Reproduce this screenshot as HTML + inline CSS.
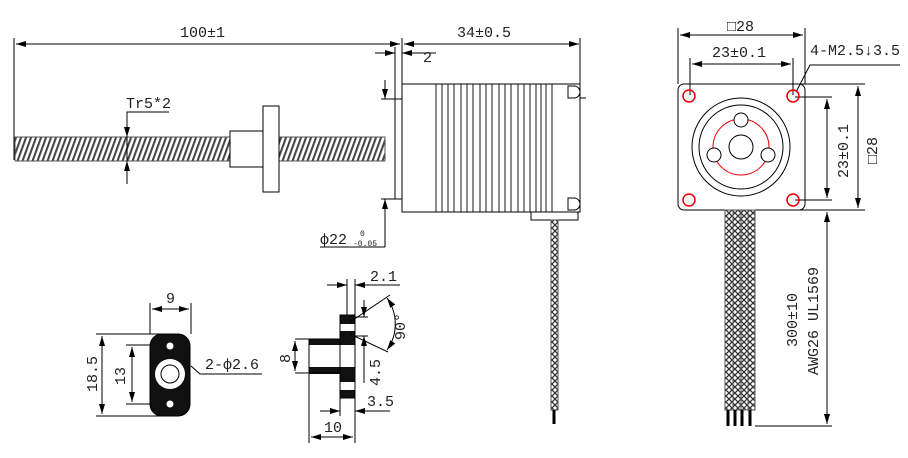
<!DOCTYPE html>
<html><head><meta charset="utf-8"><style>
html,body{margin:0;padding:0;background:#fff;}
svg{display:block;}
text{font-family:"Liberation Mono","Noto Sans CJK SC",monospace;font-size:15px;fill:#222;}
</style></head><body>
<svg width="908" height="458" viewBox="0 0 908 458" xmlns="http://www.w3.org/2000/svg">
<defs>
<pattern id="thr" width="5" height="24" patternUnits="userSpaceOnUse" patternTransform="skewX(-20)">
<rect width="5" height="24" fill="#fff"/><rect x="0" width="2.2" height="24" fill="#444"/>
</pattern>
<pattern id="braid" width="6" height="6" patternUnits="userSpaceOnUse">
<rect width="6" height="6" fill="#fff"/><path d="M0 0L6 6M6 0L0 6" stroke="#333" stroke-width="1.3"/>
</pattern>
<marker id="a" viewBox="0 0 10 6" refX="10" refY="3" markerWidth="10" markerHeight="6" orient="auto-start-reverse" markerUnits="userSpaceOnUse"><path d="M0 0L10 3L0 6z" fill="#000"/></marker>
</defs>
<g stroke="#000" stroke-width="1" fill="none">
<line x1="14" y1="38" x2="14" y2="160"/>
<line x1="580" y1="38" x2="580" y2="100"/>
<line x1="402" y1="38" x2="402" y2="84"/>
<line x1="16" y1="44" x2="400" y2="44" marker-start="url(#a)" marker-end="url(#a)"/>
<line x1="404" y1="44" x2="579" y2="44" marker-start="url(#a)" marker-end="url(#a)"/>
<line x1="395" y1="47" x2="395" y2="99"/>
<line x1="375" y1="53" x2="395" y2="53" marker-end="url(#a)"/>
<line x1="436" y1="53" x2="402" y2="53" marker-end="url(#a)"/>
<rect x="15" y="137" width="215" height="24" fill="url(#thr)" stroke="#555"/>
<rect x="279" y="137" width="106" height="24" fill="url(#thr)" stroke="#555"/>
<rect x="230" y="131" width="33" height="36" fill="#fff"/>
<rect x="263" y="106" width="16" height="86" fill="#fff"/>
<polyline points="169,112 127,112 127,184"/>
<line x1="127" y1="120" x2="127" y2="137" marker-end="url(#a)"/>
<line x1="127" y1="178" x2="127" y2="161" marker-end="url(#a)"/>
<line x1="395" y1="99" x2="395" y2="199"/>
<line x1="381" y1="99" x2="402" y2="99"/>
<line x1="381" y1="199" x2="402" y2="199"/>
<line x1="385" y1="80" x2="385" y2="99" marker-end="url(#a)"/>
<line x1="385" y1="247" x2="385" y2="199" marker-end="url(#a)"/>
<line x1="320" y1="247" x2="385" y2="247"/>
<rect x="402" y="84" width="178" height="128"/>
<g stroke-width="0.9">
<line x1="436" y1="84" x2="436" y2="212"/><line x1="442" y1="84" x2="442" y2="212"/><line x1="448" y1="84" x2="448" y2="212"/><line x1="454" y1="84" x2="454" y2="212"/><line x1="461" y1="84" x2="461" y2="212"/><line x1="467" y1="84" x2="467" y2="212"/><line x1="473" y1="84" x2="473" y2="212"/><line x1="480" y1="84" x2="480" y2="212"/><line x1="486" y1="84" x2="486" y2="212"/><line x1="492" y1="84" x2="492" y2="212"/><line x1="499" y1="84" x2="499" y2="212"/><line x1="505" y1="84" x2="505" y2="212"/><line x1="511" y1="84" x2="511" y2="212"/><line x1="518" y1="84" x2="518" y2="212"/><line x1="524" y1="84" x2="524" y2="212"/><line x1="530" y1="84" x2="530" y2="212"/><line x1="536" y1="84" x2="536" y2="212"/><line x1="541" y1="84" x2="541" y2="212"/><line x1="546" y1="84" x2="546" y2="212"/><line x1="552" y1="84" x2="552" y2="212"/>
</g>
<path d="M568 86v12h6a6 6 0 0 0 0-12z M580 98h6"/>
<path d="M568 198v12h6a6 6 0 0 0 0-12z"/>
<rect x="531" y="212" width="47" height="8"/>
<rect x="551" y="220" width="7" height="190" fill="url(#braid)" stroke="#555"/>
<line x1="554" y1="410" x2="554" y2="424" stroke-width="3"/>
<line x1="678" y1="28" x2="678" y2="84"/><line x1="805" y1="28" x2="805" y2="84"/>
<line x1="680" y1="35" x2="803" y2="35" marker-start="url(#a)" marker-end="url(#a)"/>
<line x1="690" y1="58" x2="690" y2="95"/><line x1="793" y1="58" x2="793" y2="95"/>
<line x1="692" y1="64" x2="791" y2="64" marker-start="url(#a)" marker-end="url(#a)"/>
<rect x="678" y="84" width="127" height="126" rx="6"/>
<line x1="790" y1="84" x2="865" y2="84"/><line x1="800" y1="210" x2="865" y2="210"/>
<line x1="858" y1="86" x2="858" y2="208" marker-start="url(#a)" marker-end="url(#a)"/>
<line x1="795" y1="97" x2="832" y2="97"/><line x1="795" y1="200" x2="832" y2="200"/>
<line x1="827" y1="99" x2="827" y2="198" marker-start="url(#a)" marker-end="url(#a)"/>
<polyline points="900,65 810,65 796,92"/>
<circle cx="741" cy="147" r="49"/><circle cx="741" cy="147" r="42"/>
<circle cx="741" cy="147" r="28" stroke="#e00"/>
<circle cx="741" cy="147" r="12"/>
<circle cx="741" cy="120" r="7" fill="#fff"/><circle cx="714" cy="155" r="7" fill="#fff"/><circle cx="768" cy="155" r="7" fill="#fff"/>
<g stroke-width="1.5"><circle cx="689" cy="96" r="6" stroke="#e00"/><circle cx="793" cy="96" r="6" stroke="#e00"/><circle cx="689" cy="200" r="6" stroke="#e00"/><circle cx="793" cy="200" r="6" stroke="#e00"/></g>
<g fill="url(#braid)" stroke="#555"><rect x="725" y="210" width="8" height="200"/><rect x="733" y="210" width="8" height="200"/><rect x="741" y="210" width="7" height="200"/><rect x="748" y="210" width="7" height="200"/></g>
<g stroke-width="3"><line x1="728" y1="410" x2="728" y2="426"/><line x1="735" y1="410" x2="735" y2="426"/><line x1="742" y1="410" x2="742" y2="426"/><line x1="750" y1="410" x2="750" y2="426"/></g>
<line x1="755" y1="426" x2="832" y2="426"/>
<line x1="827" y1="212" x2="827" y2="424" marker-start="url(#a)" marker-end="url(#a)"/>
<line x1="150" y1="303" x2="150" y2="334"/><line x1="191" y1="303" x2="191" y2="334"/>
<line x1="152" y1="309" x2="189" y2="309" marker-start="url(#a)" marker-end="url(#a)"/>
<line x1="96" y1="334" x2="170" y2="334"/><line x1="96" y1="416" x2="170" y2="416"/>
<line x1="102" y1="336" x2="102" y2="414" marker-start="url(#a)" marker-end="url(#a)"/>
<line x1="126" y1="345" x2="170" y2="345"/><line x1="126" y1="404" x2="170" y2="404"/>
<line x1="132" y1="347" x2="132" y2="402" marker-start="url(#a)" marker-end="url(#a)"/>
<path d="M150 346a12 12 0 0 1 12-12h16a12 12 0 0 1 12 12v58a12 12 0 0 1-12 12h-16a12 12 0 0 1-12-12z" fill="#111"/>
<circle cx="170" cy="374" r="15" fill="#fff" stroke="none"/><circle cx="170" cy="374" r="9" fill="#fff"/>
<circle cx="170" cy="346" r="3.5" fill="#fff" stroke="none"/><circle cx="170" cy="404" r="3.5" fill="#fff" stroke="none"/>
<polyline points="191,366 200,374 262,374"/>
<g fill="#111" stroke="none">
<rect x="340" y="315" width="15" height="9"/><rect x="340" y="331" width="15" height="8"/>
<rect x="309" y="339" width="46" height="6"/><rect x="309" y="367" width="46" height="7"/>
<rect x="340" y="374" width="15" height="8"/><rect x="340" y="390" width="15" height="8"/>
</g>
<path d="M340 315h15v83h-15z M309 339h31 M309 373h31 M309 339v34"/>
<line x1="295" y1="339" x2="309" y2="339"/><line x1="295" y1="373" x2="309" y2="373"/>
<line x1="295" y1="341" x2="295" y2="371" marker-start="url(#a)" marker-end="url(#a)"/>
<line x1="309" y1="374" x2="309" y2="443"/><line x1="355" y1="398" x2="355" y2="443"/><line x1="340" y1="398" x2="340" y2="416"/>
<line x1="311" y1="437" x2="353" y2="437" marker-start="url(#a)" marker-end="url(#a)"/>
<line x1="320" y1="411" x2="340" y2="411" marker-end="url(#a)"/>
<line x1="390" y1="411" x2="355" y2="411" marker-end="url(#a)"/>
<line x1="347" y1="279" x2="347" y2="315"/><line x1="355" y1="279" x2="355" y2="315"/>
<line x1="327" y1="285" x2="347" y2="285" marker-end="url(#a)"/>
<line x1="400" y1="285" x2="355" y2="285" marker-end="url(#a)"/>
<line x1="355" y1="317" x2="368" y2="317"/><line x1="355" y1="336" x2="368" y2="336"/>
<line x1="364" y1="300" x2="364" y2="317" marker-end="url(#a)"/>
<line x1="364" y1="383" x2="364" y2="336" marker-end="url(#a)"/>
<line x1="350" y1="322" x2="390" y2="295"/><line x1="350" y1="334" x2="388" y2="352"/>
<path d="M387 298a45 45 0 0 1 0 52" marker-start="url(#a)" marker-end="url(#a)"/>
</g>
<text x="180" y="37">100±1</text>
<text x="457" y="37">34±0.5</text>
<text x="423" y="62">2</text>
<text x="126" y="108">Tr5*2</text>
<text x="320" y="244">ф22</text>
<text x="360" y="236" style="font-size:8px">0</text>
<text x="353" y="246" style="font-size:8px">-0.05</text>
<text x="727" y="31">□28</text>
<text x="712" y="57">23±0.1</text>
<text x="810" y="55">4-M2.5↓3.5</text>
<text transform="translate(848,178) rotate(-90)">23±0.1</text>
<text transform="translate(877,164) rotate(-90)">□28</text>
<text transform="translate(797,347) rotate(-90)">300±10</text>
<text transform="translate(818,375) rotate(-90)">AWG26 UL1569</text>
<text x="166" y="303">9</text>
<text transform="translate(97,392) rotate(-90)">18.5</text>
<text transform="translate(125,385) rotate(-90)">13</text>
<text x="205" y="369">2-ф2.6</text>
<text transform="translate(290,363) rotate(-90)">8</text>
<text x="370" y="281">2.1</text>
<text transform="translate(380,386) rotate(-90)">4.5</text>
<text transform="translate(405,340) rotate(-90)">90°</text>
<text x="367" y="406">3.5</text>
<text x="324" y="432">10</text>
</svg>
</body></html>
